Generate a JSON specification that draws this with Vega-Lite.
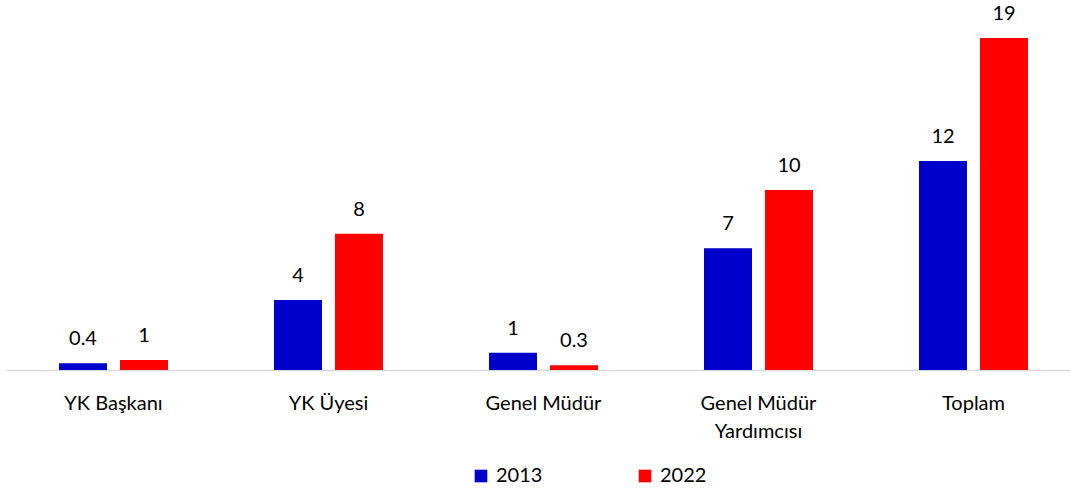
{
  "$schema": "https://vega.github.io/schema/vega-lite/v6.json",
  "width": 1075,
  "height": 370,
  "autosize": {"type": "none"},
  "padding": {"left": 6, "top": 0, "right": 0, "bottom": 118},
  "background": "white",
  "config": {
    "view": {"stroke": null},
    "font": "Lato"
  },
  "data": {
    "values": [
      {"kategori": "YK Başkanı", "yil": "2013", "deger": 0.38, "etiket": "0.4"},
      {"kategori": "YK Başkanı", "yil": "2022", "deger": 0.57, "etiket": "1"},
      {"kategori": "YK Üyesi", "yil": "2013", "deger": 4.0, "etiket": "4"},
      {"kategori": "YK Üyesi", "yil": "2022", "deger": 7.8, "etiket": "8"},
      {"kategori": "Genel Müdür", "yil": "2013", "deger": 0.99, "etiket": "1"},
      {"kategori": "Genel Müdür", "yil": "2022", "deger": 0.27, "etiket": "0.3"},
      {"kategori": "Genel Müdür Yardımcısı", "yil": "2013", "deger": 6.97, "etiket": "7"},
      {"kategori": "Genel Müdür Yardımcısı", "yil": "2022", "deger": 10.3, "etiket": "10"},
      {"kategori": "Toplam", "yil": "2013", "deger": 11.96, "etiket": "12"},
      {"kategori": "Toplam", "yil": "2022", "deger": 19.0, "etiket": "19"}
    ]
  },
  "encoding": {
    "x": {
      "field": "kategori",
      "type": "nominal",
      "sort": null,
      "scale": {"paddingInner": 0, "paddingOuter": 0},
      "axis": {
        "title": null,
        "labelAngle": 0,
        "ticks": false,
        "domainColor": "#d9d9d9",
        "domainWidth": 1.5,
        "labelFontSize": 20,
        "labelColor": "#000000",
        "labelPadding": 23,
        "labelLineHeight": 28,
        "labelExpr": "datum.value == 'Genel Müdür Yardımcısı' ? ['Genel Müdür', 'Yardımcısı'] : datum.value"
      }
    },
    "xOffset": {
      "field": "yil",
      "type": "nominal",
      "scale": {"paddingInner": 0.213, "paddingOuter": 0.869}
    },
    "y": {
      "field": "deger",
      "type": "quantitative",
      "scale": {"domain": [0, 21.18], "nice": false},
      "axis": null
    }
  },
  "layer": [
    {
      "mark": {"type": "bar"},
      "encoding": {
        "color": {
          "field": "yil",
          "type": "nominal",
          "scale": {"domain": ["2013", "2022"], "range": ["#0000CC", "#FF0000"]},
          "legend": {
            "title": null,
            "orient": "none",
            "direction": "horizontal",
            "legendX": 465,
            "legendY": 466,
            "symbolType": "square",
            "symbolSize": 160,
            "symbolStrokeWidth": 0,
            "labelFontSize": 20,
            "labelColor": "#000000",
            "labelOffset": 5,
            "columnPadding": 92
          }
        }
      }
    },
    {
      "mark": {"type": "text", "baseline": "alphabetic", "dy": -18, "fontSize": 20, "color": "#000000"},
      "encoding": {
        "text": {"field": "etiket"}
      }
    }
  ]
}
